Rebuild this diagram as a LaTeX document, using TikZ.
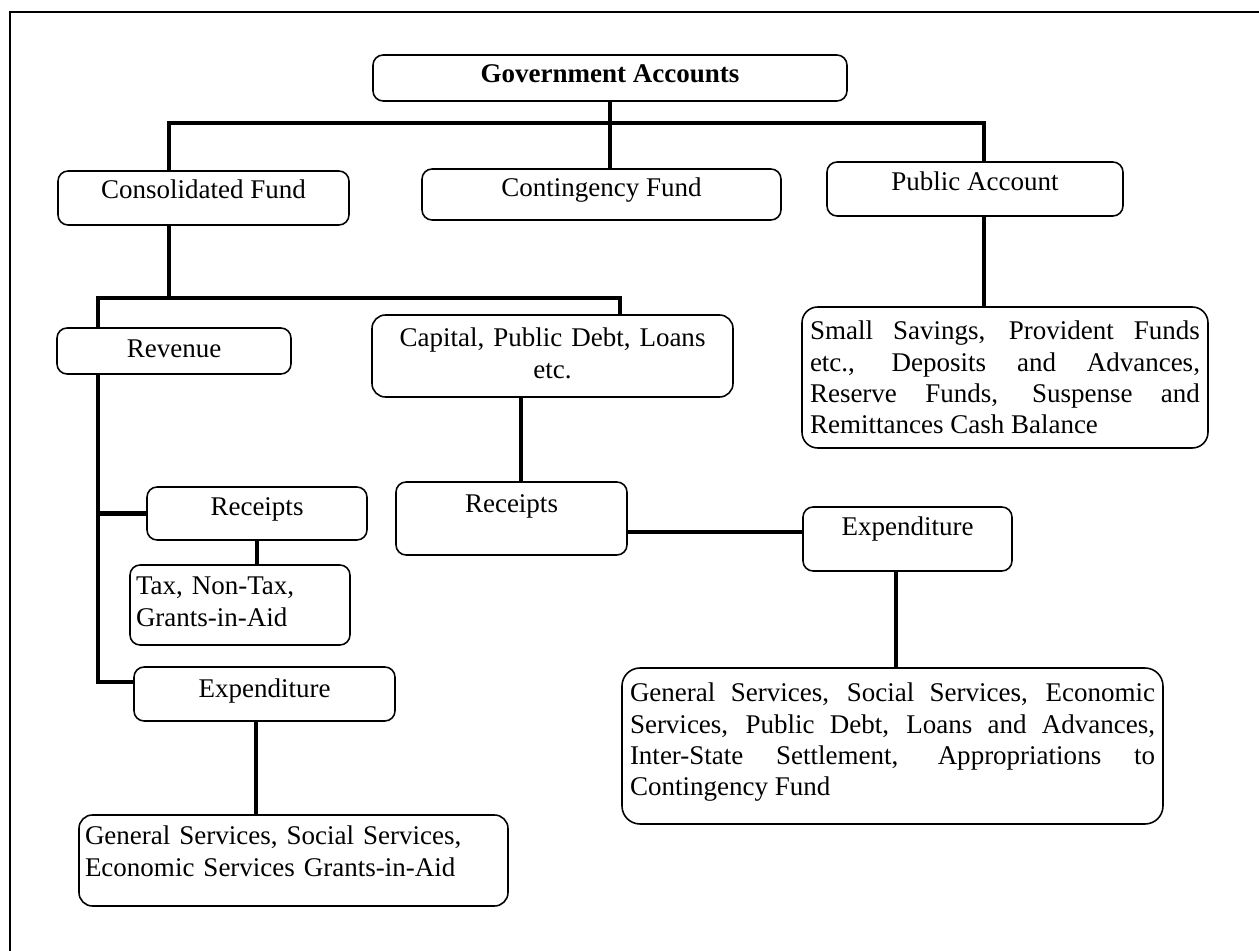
\documentclass[tikz,border=0pt]{standalone}
\usepackage{fontspec}
\setmainfont{Liberation Serif}
\hyphenpenalty=10000
\newcommand\pxu{0.4444}
\newcommand\mkbox[8]{%
  \pgfmathsetmacro\mkW{(#4-#2)*\pxu}%
  \pgfmathsetmacro\mkH{(#5-#3)*\pxu}%
  \pgfmathsetmacro\mkT{(#6-#3)*\pxu}%
  \pgfmathsetmacro\mkD{(#5-#6)*\pxu}%
  \node[box, minimum width=\mkW pt, minimum height=\mkH pt,
        text height=\mkT pt, text depth=\mkD pt, #7] (#1) at (#2,#3) {#8};}
\newcommand\mkpar[9]{%
  \pgfmathsetmacro\mkW{(#4-#2)*\pxu}%
  \pgfmathsetmacro\mkH{(#5-#3)*\pxu}%
  \pgfmathsetmacro\mkT{(#6-#3)*\pxu}%
  \pgfmathsetmacro\mkD{(#5-#6)*\pxu}%
  \pgfmathsetmacro\mkTW{(#4-#2-2*#7)*\pxu}%
  \pgfmathsetmacro\mkP{#7*\pxu}%
  \node[box, minimum width=\mkW pt, minimum height=\mkH pt,
        text height=\mkT pt, text depth=\mkD pt, text width=\mkTW pt,
        inner xsep=\mkP pt, #8] (#1) at (#2,#3) {#9};}
\tikzset{
  box/.style={draw, line width=0.7pt, rounded corners=4.5pt, inner xsep=0pt,
    inner ysep=0pt, outer sep=0pt, anchor=north west,
    font=\fontsize{12}{13.8}\selectfont},
  conn/.style={line width=2.2pt},
  frameline/.style={line width=0.9pt}
}
\begin{document}
\begin{tikzpicture}[x=0.4444pt,y=-0.4444pt]
\useasboundingbox (0,0) rectangle (1259,951);
\fill[white] (0,0) rectangle (1259,951);
\draw[frameline] (10,951) -- (10,12) -- (1259,12);

\mkbox{ga}{373}{55}{847}{101}{83}{}{\textbf{Government Accounts}}
\mkbox{cf}{58}{171}{349}{225}{199}{}{Consolidated Fund}
\mkbox{cont}{422}{169}{781}{220}{197}{}{Contingency Fund}
\mkbox{pa}{827}{162}{1123}{216}{191}{}{Public Account}
\mkpar{ss}{802}{307}{1208}{448}{340}{8}{align=justify, rounded corners=7pt}{Small Savings, Provident Funds\linebreak etc., Deposits and Advances,\linebreak Reserve Funds, Suspense and\linebreak Remittances Cash Balance}
\mkbox{rev}{57}{328}{291}{374}{358}{}{Revenue}
\mkpar{cap}{372}{315}{733}{397}{347}{8}{align=center, rounded corners=6pt}{Capital, Public Debt, Loans\\etc.}
\mkbox{rec1}{147}{487}{367}{540}{516}{}{Receipts}
\mkbox{rec2}{396}{482}{627}{555}{513}{}{Receipts}
\mkpar{tax}{130}{565}{350}{645}{595}{6}{align=left}{Tax, Non-Tax,\\Grants-in-Aid}
\mkbox{exp2}{803}{507}{1012}{571}{536}{}{Expenditure}
\mkpar{gs2}{622}{668}{1163}{824}{702}{8}{align=justify, rounded corners=8pt}{General Services, Social Services, Economic\linebreak Services, Public Debt, Loans and Advances,\linebreak Inter-State Settlement, Appropriations to\linebreak Contingency Fund}
\mkbox{exp1}{134}{667}{395}{721}{698}{}{Expenditure}
\mkpar{gs1}{79}{815}{508}{906}{845}{6}{align=left, rounded corners=6pt}{General Services, Social Services,\\Economic Services Grants-in-Aid}

% junction coordinates
\coordinate (b1) at (169,123);
\coordinate (b2) at (984,123);
\coordinate (c0) at (169,298);
\coordinate (c1) at (98,298);
\coordinate (c2) at (620,298);
\coordinate (c3) at (98,682);
\coordinate (c4) at (521,0);
\coordinate (c5) at (0,532);
\coordinate (c6) at (896,0);
\coordinate (c7) at (256,0);

% connectors
\draw[conn] (ga.south) -- (ga.south |- cont.north);
\draw[conn] (b1 |- cf.north) -- (b1) -- (b2) -- (b2 |- pa.north);
\draw[conn] (b2 |- pa.south) -- (b2 |- ss.north);
\draw[conn] (b1 |- cf.south) -- (c0);
\draw[conn] (c1 |- rev.north) -- (c1) -- (c2) -- (c2 |- cap.north);
\draw[conn] (c1 |- rev.south) -- (c3) -- (c3 -| exp1.west);
\draw[conn] (c1 |- rec1.west) -- (rec1.west);
\draw[conn] (rec1.south) -- (rec1.south |- tax.north);
\draw[conn] (c4 |- cap.south) -- (c4 |- rec2.north);
\draw[conn] (rec2.east |- c5) -- (exp2.west |- c5);
\draw[conn] (c6 |- exp2.south) -- (c6 |- gs2.north);
\draw[conn] (c7 |- exp1.south) -- (c7 |- gs1.north);
\end{tikzpicture}
\end{document}
